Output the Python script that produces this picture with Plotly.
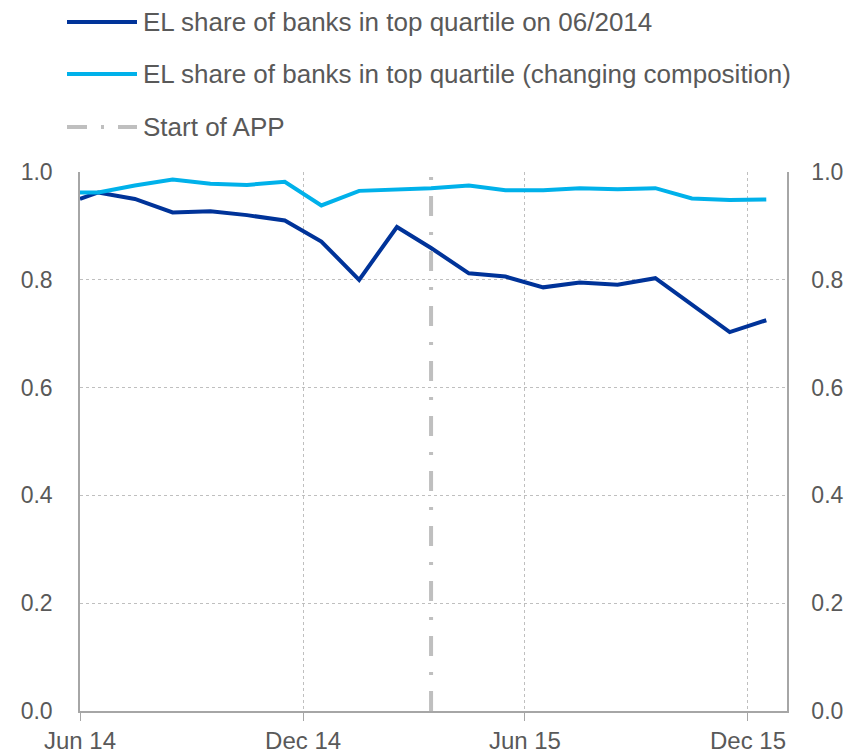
import plotly.graph_objects as go

# ---- data ----
dates = ["2014-06-01", "2014-06-16", "2014-07-16", "2014-08-16", "2014-09-16",
         "2014-10-16", "2014-11-16", "2014-12-16", "2015-01-16", "2015-02-16",
         "2015-03-16", "2015-04-16", "2015-05-16", "2015-06-16", "2015-07-16",
         "2015-08-16", "2015-09-16", "2015-10-16", "2015-11-16", "2015-12-16"]

el_fixed = [0.950, 0.962, 0.950, 0.925, 0.927, 0.920, 0.910, 0.871, 0.800, 0.898,
            0.859, 0.812, 0.806, 0.786, 0.795, 0.791, 0.803, 0.753, 0.703, 0.725]

el_changing = [0.962, 0.962, 0.975, 0.986, 0.978, 0.976, 0.982, 0.938, 0.965, 0.968,
               0.970, 0.975, 0.966, 0.966, 0.970, 0.968, 0.970, 0.951, 0.948, 0.949]

app_date = "2015-03-16"
app_y = [0.0, 1.0]

names = ["EL share of banks in top quartile on 06/2014",
         "EL share of banks in top quartile (changing composition)",
         "Start of APP"]

DARK = "#003399"
LIGHT = "#00B1EA"
GREY = "#BFBFBF"
TXT = "#595959"
AX = "#A6A6A6"
FONT = "Liberation Sans, Arial, sans-serif"

fig = go.Figure()
fig.add_trace(go.Scatter(x=dates, y=el_fixed, mode="lines", name=names[0],
                         line=dict(color=DARK, width=4), showlegend=False))
fig.add_trace(go.Scatter(x=dates, y=el_changing, mode="lines", name=names[1],
                         line=dict(color=LIGHT, width=4), showlegend=False))
fig.add_trace(go.Scatter(x=[app_date, app_date], y=app_y, mode="lines", name=names[2],
                         line=dict(color=GREY, width=4, dash="20px,16px,3px,16px"),
                         yaxis="y2", showlegend=False))

# ---- layout geometry (page has an 8px body margin) ----
OFF = 8
W, H = 863 - OFF, 754 - OFF
L, R, T, B = 80 - OFF, 76, 172 - OFF, 43
pw, ph = W - L - R, H - T - B

def px(x):
    return (x - OFF - L) / pw

def py(y):
    return (H - B - (y - OFF)) / ph

rows = [22, 74, 127]
styles = [dict(color=DARK, width=4), dict(color=LIGHT, width=4),
          dict(color=GREY, width=4, dash="20px,14px,3px,14px")]
for i, (name, st) in enumerate(zip(names, styles)):
    fig.add_shape(type="line", xref="paper", yref="paper",
                  x0=px(67), x1=px(137), y0=py(rows[i]), y1=py(rows[i]), line=st)
    fig.add_annotation(xref="paper", yref="paper", x=px(142), y=py(rows[i]),
                       text=name, showarrow=False, xanchor="left", yanchor="middle",
                       borderpad=0,
                       font=dict(family=FONT, size=26, color=TXT))

yax = dict(range=[0, 1], tickvals=[0, 0.2, 0.4, 0.6, 0.8, 1.0], tickformat=".1f",
           showgrid=True, gridcolor=GREY, griddash="dot", gridwidth=1,
           zeroline=False, showline=True, linecolor=AX, linewidth=1.5,
           ticks="", ticklabelstandoff=21,
           tickfont=dict(family=FONT, size=23, color=TXT), fixedrange=True)

fig.update_layout(
    width=W, height=H,
    margin=dict(l=L, r=R, t=T, b=B, autoexpand=False),
    paper_bgcolor="white", plot_bgcolor="white",
    showlegend=False,
    xaxis=dict(type="date", range=["2014-06-01", "2016-01-02"],
               tickvals=["2014-06-01", "2014-12-01", "2015-06-01", "2015-12-01"],
               tickformat="%b %y",
               showgrid=True, gridcolor=GREY, griddash="dot", gridwidth=1,
               zeroline=False, showline=True, linecolor=AX, linewidth=1.5,
               ticks="outside", ticklen=8, tickcolor=AX, tickwidth=1,
               ticklabelstandoff=-1,
               tickfont=dict(family=FONT, size=24, color=TXT)),
    yaxis=yax,
    yaxis2=dict(yax, overlaying="y", side="right", showgrid=False,
                ticklabelstandoff=18),
)

fig.write_html("out.html")
